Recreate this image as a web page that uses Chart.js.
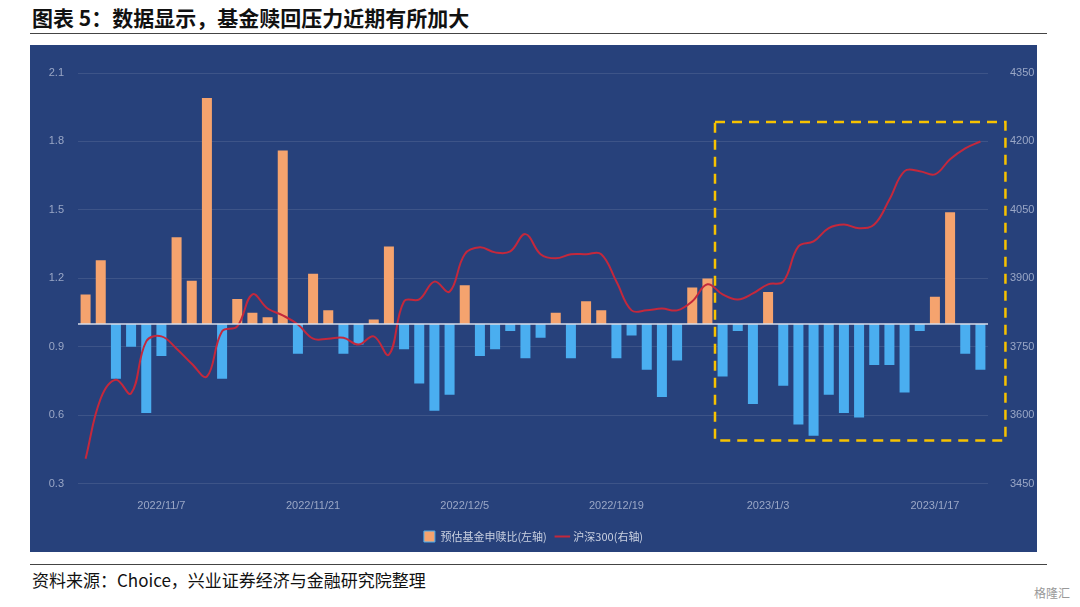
<!DOCTYPE html>
<html>
<head>
<meta charset="utf-8">
<script src="https://cdn.jsdelivr.net/npm/chart.js@4"></script>
<style>
  body { margin: 0; width: 1080px; height: 607px; background: #fff; position: relative; font-family: "Noto Sans CJK SC", sans-serif; overflow: hidden; }
  #title { position: absolute; left: 32px; top: 2px; font-size: 21px; font-weight: bold; color: #111; }
  .rule { position: absolute; left: 30px; width: 1017px; height: 1px; background: #444; }
  #panel { position: absolute; left: 30px; top: 45px; width: 1007px; height: 507px; background: #27417b; }
  #source { position: absolute; left: 32px; top: 567px; font-size: 17px; color: #111; font-family: "Noto Sans CJK SC", "Liberation Serif", serif; }
  #mark { position: absolute; right: 10px; top: 584px; font-size: 12px; color: #999; }
</style>
</head>
<body>
<div id="title">图表 5：数据显示，基金赎回压力近期有所加大</div>
<div class="rule" style="top:33px"></div>
<div id="panel"><canvas id="c" width="1007" height="507"></canvas></div>
<div class="rule" style="top:564px"></div>
<div id="source">资料来源：Choice，兴业证券经济与金融研究院整理</div>
<div id="mark">格隆汇</div>
<script>
// === 数据 ===
const dates = [
  '2022/10/31','2022/11/1','2022/11/2','2022/11/3','2022/11/4','2022/11/7','2022/11/8','2022/11/9','2022/11/10','2022/11/11',
  '2022/11/14','2022/11/15','2022/11/16','2022/11/17','2022/11/18','2022/11/21','2022/11/22','2022/11/23','2022/11/24','2022/11/25',
  '2022/11/28','2022/11/29','2022/11/30','2022/12/1','2022/12/2','2022/12/5','2022/12/6','2022/12/7','2022/12/8','2022/12/9',
  '2022/12/12','2022/12/13','2022/12/14','2022/12/15','2022/12/16','2022/12/19','2022/12/20','2022/12/21','2022/12/22','2022/12/23',
  '2022/12/26','2022/12/27','2022/12/28','2022/12/29','2022/12/30','2023/1/3','2023/1/4','2023/1/5','2023/1/6','2023/1/9',
  '2023/1/10','2023/1/11','2023/1/12','2023/1/13','2023/1/16','2023/1/16 ','2023/1/17','2023/1/18','2023/1/19','2023/1/20'
];
const shownTicks = ['2022/11/7','2022/11/21','2022/12/5','2022/12/19','2023/1/3','2023/1/17'];

// 预估基金申赎比(左轴)
const ratio = [
  1.13,1.28,0.76,0.90,0.61,0.86,1.38,1.19,1.99,0.76,
  1.11,1.05,1.03,1.76,0.87,1.22,1.06,0.87,0.91,1.02,
  1.34,0.89,0.74,0.62,0.69,1.17,0.86,0.89,0.97,0.85,
  0.94,1.05,0.85,1.10,1.06,0.85,0.95,0.80,0.68,0.84,
  1.16,1.20,0.77,0.97,0.65,1.14,0.73,0.56,0.51,0.69,
  0.61,0.59,0.82,0.82,0.70,0.97,1.12,1.49,0.87,0.80
];
// 沪深300(右轴)
const hs300 = [
  3505,3637,3678,3648,3762,3773,3746,3713,3685,3784,
  3795,3865,3834,3819,3799,3768,3768,3770,3755,3773,
  3733,3850,3854,3893,3871,3953,3968,3957,3959,3997,
  3953,3944,3953,3953,3953,3893,3830,3830,3834,3830,
  3850,3887,3865,3854,3867,3887,3893,3970,3981,4010,
  4018,4010,4018,4073,4135,4135,4128,4161,4185,4200
];

const ORANGE = '#f5a36e', BLUE = '#4aaef0', RED = '#c4283c', TICK = '#9aa7c6';

// 1.0 基准线 + 黄色虚线框
const overlay = {
  id: 'overlay',
  afterDatasetsDraw(chart) {
    const { ctx, scales: { x, y } } = chart;
    const step = x.getPixelForValue(1) - x.getPixelForValue(0);
    ctx.save();
    ctx.strokeStyle = '#d8dde8';
    ctx.lineWidth = 1.5;
    ctx.beginPath();
    ctx.moveTo(x.getPixelForValue(0) - step / 2, y.getPixelForValue(1));
    ctx.lineTo(x.getPixelForValue(59) + step / 2, y.getPixelForValue(1));
    ctx.stroke();
    ctx.strokeStyle = '#f7c200';
    ctx.lineWidth = 2.5;
    ctx.setLineDash([10, 7]);
    const l = x.getPixelForValue(41.5), r = x.getPixelForValue(59) + step * 1.65;
    const t = y.getPixelForValue(1.885), b = y.getPixelForValue(0.49);
    ctx.strokeRect(l, t, r - l, b - t);
    ctx.restore();
  }
};

new Chart(document.getElementById('c'), {
  data: {
    labels: dates,
    datasets: [
      {
        type: 'line', label: '沪深300(右轴)', data: hs300, yAxisID: 'y1',
        borderColor: RED, borderWidth: 2, pointRadius: 0, tension: 0.4, order: 0
      },
      {
        type: 'bar', label: '预估基金申赎比(左轴)', data: ratio.map(v => [1, v]), yAxisID: 'y',
        backgroundColor: ratio.map(v => v >= 1 ? ORANGE : BLUE),
        barPercentage: 0.66, categoryPercentage: 1, order: 1
      }
    ]
  },
  options: {
    responsive: false, animation: false,
    layout: { padding: { top: 28, bottom: 0 } },
    plugins: {
      tooltip: { enabled: false },
      legend: {
        position: 'bottom',
        labels: {
          color: '#c9d0e0', font: { size: 11, family: 'Noto Sans CJK SC' }, usePointStyle: true, padding: 10,
          generateLabels: () => [
            { text: '预估基金申赎比(左轴)', fillStyle: ORANGE, strokeStyle: BLUE, lineWidth: 1, pointStyle: 'rect', fontColor: '#c9d0e0' },
            { text: '沪深300(右轴)', fillStyle: RED, strokeStyle: RED, lineWidth: 2, pointStyle: 'line', fontColor: '#c9d0e0' }
          ]
        }
      }
    },
    scales: {
      x: {
        offset: true,
        grid: { display: false }, border: { display: false },
        ticks: {
          autoSkip: false, maxRotation: 0, color: TICK, font: { size: 11 }, padding: 8,
          callback(v) { const d = dates[v]; return shownTicks.includes(d) ? d : ''; }
        }
      },
      y: {
        position: 'left', min: 0.3, max: 2.1,
        afterFit(s) { s.width = 48; },
        grid: { color: 'rgba(255,255,255,0.10)', drawTicks: false }, border: { display: false },
        ticks: { stepSize: 0.3, color: TICK, font: { size: 11 }, padding: 14, callback: v => v.toFixed(1) }
      },
      y1: {
        position: 'right', min: 3450, max: 4350,
        afterFit(s) { s.width = 49; },
        grid: { display: false }, border: { display: false },
        ticks: { stepSize: 150, color: TICK, font: { size: 11 }, padding: 14, callback: v => String(v) }
      }
    }
  },
  plugins: [overlay]
});
</script>
</body>
</html>
